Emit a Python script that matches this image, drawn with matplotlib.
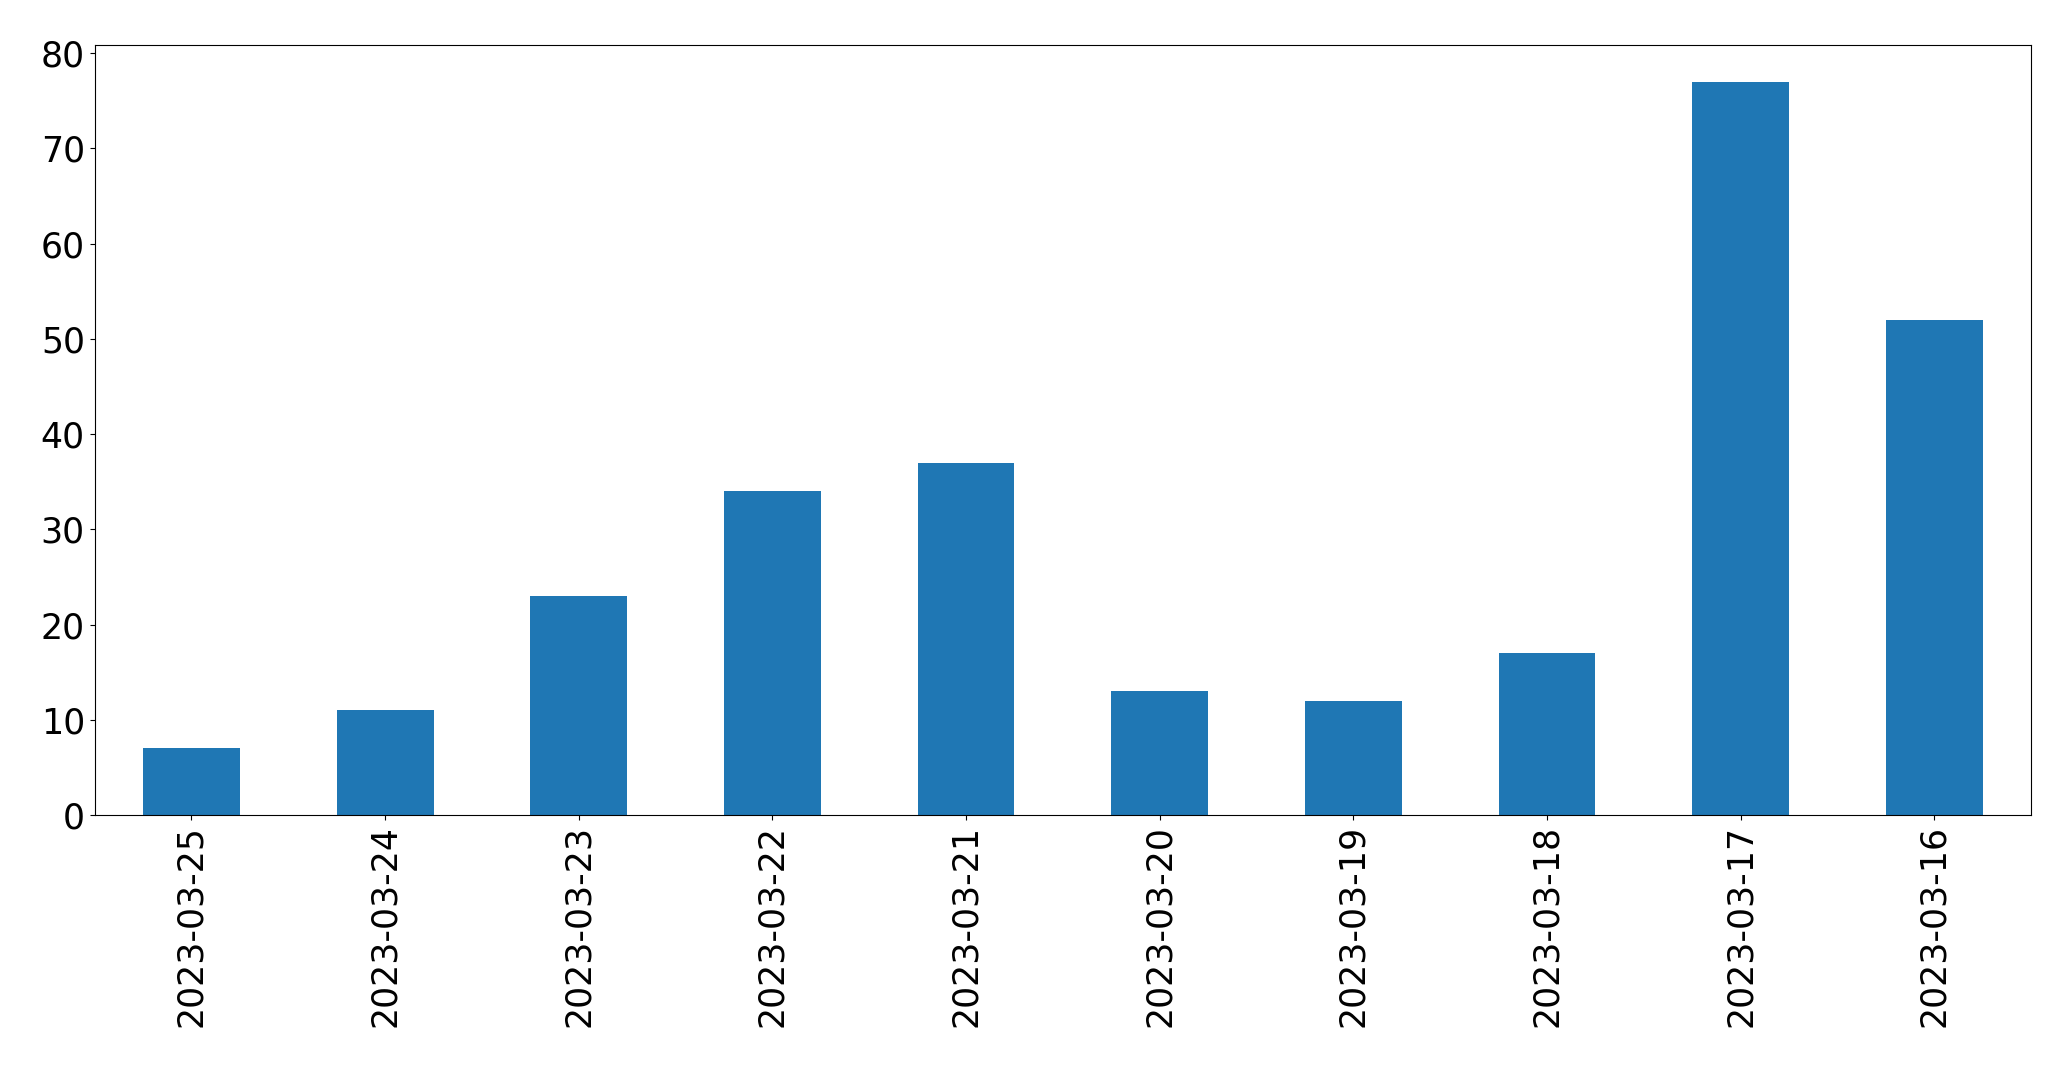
import pandas as pd
import matplotlib
matplotlib.use('Agg')
import matplotlib.pyplot as plt

# Daily counts, in the order they appear on the chart
dates = ['2023-03-25', '2023-03-24', '2023-03-23', '2023-03-22', '2023-03-21',
         '2023-03-20', '2023-03-19', '2023-03-18', '2023-03-17', '2023-03-16']
counts = [7, 11, 23, 34, 37, 13, 12, 17, 77, 52]

if __name__ == '__main__':
    # Build series indexed by date
    series = pd.Series(counts, index=dates)

    # Create figure
    fig, ax = plt.subplots(figsize=(20.71, 10.67), dpi=100)

    # Plot bars the pandas way
    series.plot(kind='bar', ax=ax, color='#1f77b4', fontsize=25)

    # Place the axes like the reference
    fig.subplots_adjust(left=0.0457, right=0.9807, top=0.9578, bottom=0.2362)

    # Save plot as image
    fig.savefig('out.png', dpi=100)
